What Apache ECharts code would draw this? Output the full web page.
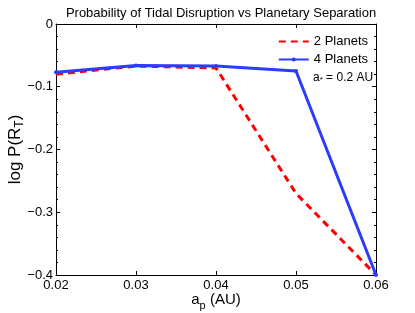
<!DOCTYPE html>
<html><head><meta charset="utf-8">
<script src="https://cdn.jsdelivr.net/npm/echarts@6/dist/echarts.min.js"></script>
<style>html,body{margin:0;padding:0;background:#fff}#c{width:415px;height:313px}</style>
</head><body><div id="c"></div>
<script>
const separations = [0.02, 0.03, 0.04, 0.05, 0.06];
const twoPlanets = [-0.080, -0.067, -0.070, -0.270, -0.400];
const fourPlanets = [-0.077, -0.066, -0.067, -0.075, -0.400];
const xTicks = [0.02, 0.03, 0.04, 0.05, 0.06];
const yTicks = [0, -0.1, -0.2, -0.3, -0.4];

const F = 'Liberation Sans, Arial, Helvetica, sans-serif';
const chart = echarts.init(document.getElementById('c'));
const axisCommon = {
  axisLine: {show: true, onZero: false, lineStyle: {color: '#000', width: 1}},
  axisTick: {show: true, inside: true, length: 4, lineStyle: {color: '#000'}},
  splitLine: {show: false}
};
chart.setOption({
  animation: false,
  title: {text: 'Probability of Tidal Disruption vs Planetary Separation', left: 216, textAlign: 'center', top: 2,
    textStyle: {fontFamily: F, fontSize: 13, fontWeight: 'normal', color: '#000'}},
  grid: {left: 56, right: 39, top: 24, bottom: 38, containLabel: false, outerBoundsMode: 'none'},
  legend: {right: 42, top: 30, orient: 'vertical', itemWidth: 30, itemHeight: 5, itemGap: 5,
    textStyle: {fontFamily: F, fontSize: 13, color: '#000', lineHeight: 11},
    data: [{name: '2 Planets', itemStyle: {opacity: 0}}, {name: '4 Planets'}]},
  xAxis: [
    Object.assign({type: 'value', min: 0.02, max: 0.06, interval: 0.01, position: 'bottom',
      name: '{a|a}{s|p}{a| (AU)}', nameLocation: 'middle', nameGap: 14, nameMoveOverlap: false,
      nameTextStyle: {rich: {a: {fontFamily: F, fontSize: 15, color: '#000'}, s: {fontFamily: F, fontSize: 11, color: '#000', padding: [11, 0, 0, 0]}}},
      axisLabel: {fontFamily: F, fontSize: 13, color: '#000', margin: 4, formatter: v => v.toFixed(2)}}, axisCommon),
    Object.assign({type: 'value', min: 0.02, max: 0.06, interval: 0.01, position: 'top', axisLabel: {show: false}}, axisCommon)
  ],
  yAxis: [
    Object.assign({type: 'value', min: -0.4, max: 0, interval: 0.1, position: 'left',
      name: '{a|log P(R}{s|T}{a|)}', nameLocation: 'middle', nameGap: 30, nameRotate: 90, nameMoveOverlap: false,
      nameTextStyle: {rich: {a: {fontFamily: F, fontSize: 17, color: '#000'}, s: {fontFamily: F, fontSize: 12, color: '#000', padding: [10, 0, 0, 0]}}},
      minorTick: {show: true, splitNumber: 5, length: 2, lineStyle: {color: '#000'}},
      axisLabel: {fontFamily: F, fontSize: 13, color: '#000', margin: 3,
        formatter: v => v === 0 ? '0' : '\u2212' + Math.abs(v).toFixed(1)}}, axisCommon),
    Object.assign({type: 'value', min: -0.4, max: 0, interval: 0.1, position: 'right', axisLabel: {show: false},
      minorTick: {show: true, splitNumber: 5, length: 2, lineStyle: {color: '#000'}}}, axisCommon)
  ],
  graphic: [{type: 'text', left: 313, top: 72, style: {
    text: '{a|a}{s|*}{a| = 0.2 AU}', rich: {a: {fontFamily: F, fontSize: 12, fill: '#000'}, s: {fontFamily: F, fontSize: 8, fill: '#000', padding: [4, 0, 0, 0]}}}}],
  series: [
    {name: '2 Planets', type: 'line', data: separations.map((x, i) => [x, twoPlanets[i]]),
      showSymbol: false, symbol: 'none', lineStyle: {color: '#ff0000', width: 3, type: [7, 5]}, itemStyle: {color: '#ff0000'}, z: 2},
    {name: '4 Planets', type: 'line', data: separations.map((x, i) => [x, fourPlanets[i]]),
      symbol: 'circle', symbolSize: 4, lineStyle: {color: '#2b3cff', width: 3}, itemStyle: {color: '#2b3cff'}, z: 3}
  ]
});
</script></body></html>
